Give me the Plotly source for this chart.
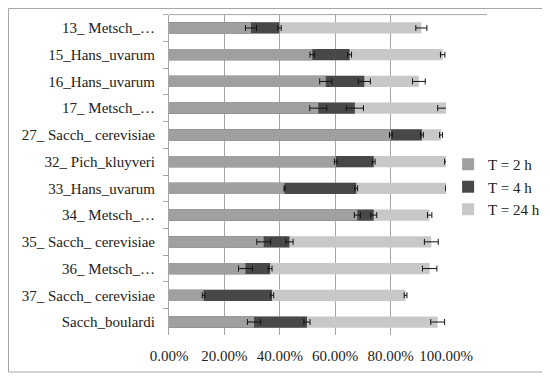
import plotly.graph_objects as go

categories = ["13_ Metsch_…", "15_Hans_uvarum", "16_Hans_uvarum", "17_ Metsch_…",
              "27_ Sacch_ cerevisiae", "32_ Pich_kluyveri", "33_Hans_uvarum", "34_ Metsch_…",
              "35_ Sacch_ cerevisiae", "36_ Metsch_…", "37_ Sacch_ cerevisiae", "Sacch_boulardi"]

t2 = [0.296, 0.517, 0.566, 0.539, 0.801, 0.602, 0.417, 0.680, 0.342, 0.276, 0.125, 0.307]
t2_err = [0.020, 0.008, 0.022, 0.031, 0.005, 0.005, 0.002, 0.011, 0.025, 0.025, 0.005, 0.024]
t4 = [0.399, 0.652, 0.705, 0.671, 0.913, 0.739, 0.676, 0.739, 0.435, 0.365, 0.372, 0.498]
t4_err = [0.006, 0.007, 0.022, 0.031, 0.005, 0.005, 0.005, 0.011, 0.013, 0.007, 0.006, 0.011]
t24 = [0.911, 0.988, 0.902, 1.000, 0.982, 1.000, 1.000, 0.941, 0.947, 0.941, 0.854, 0.970]
t24_err = [0.020, 0.008, 0.023, 0.030, 0.005, 0.005, 0.001, 0.008, 0.025, 0.026, 0.005, 0.025]

series_names = ["T = 2 h", "T = 4 h", "T = 24 h"]
colors = ["#a0a0a0", "#484848", "#c8c8c8"]

FONT = "Liberation Serif"
W, H = 542, 369

fig = go.Figure()
for name, vals, errs, col, rank in [
    (series_names[2], t24, t24_err, colors[2], 3),
    (series_names[1], t4, t4_err, colors[1], 2),
    (series_names[0], t2, t2_err, colors[0], 1),
]:
    fig.add_trace(go.Bar(
        y=categories, x=vals, orientation="h", name=name,
        marker=dict(color=col, line=dict(width=0)),
        error_x=dict(type="data", array=errs, color="#111111", thickness=1, width=3),
        legendrank=rank, width=0.42,
    ))

fig.update_layout(
    width=W, height=H,
    barmode="overlay",
    plot_bgcolor="white", paper_bgcolor="white",
    margin=dict(l=0, r=0, t=0, b=0, pad=0),
    font=dict(family=FONT, size=15, color="#222222"),
    showlegend=True,
    legend=dict(x=0.812, xanchor="left", y=0.515, yanchor="middle",
                font=dict(family=FONT, size=15, color="#222222"),
                tracegroupgap=9, itemwidth=30, bgcolor="rgba(0,0,0,0)"),
    xaxis=dict(domain=[161 / W, 438 / W], range=[0, 1.0],
               tickvals=[0, 0.2, 0.4, 0.6, 0.8, 1.0],
               ticktext=["0.00%", "20.00%", "40.00%", "60.00%", "80.00%", "100.00%"],
               showgrid=True, gridcolor="#a6a6a6", gridwidth=1,
               zeroline=False, showline=False, ticks="", ticklabelstandoff=10,
               automargin=False),
    yaxis=dict(domain=[1 - 327.4 / H, 1 - 6.6 / H],
               categoryorder="array", categoryarray=categories, autorange="reversed",
               showline=True, linecolor="#a6a6a6", linewidth=1,
               ticks="outside", ticklen=5, tickcolor="#a6a6a6", tickson="boundaries",
               showgrid=False, ticklabelstandoff=10, automargin=False),
)

# top line of plot area, extending to the right
fig.add_shape(type="line", xref="paper", yref="paper",
              x0=161 / W, x1=479 / W, y0=1 - 6.6 / H, y1=1 - 6.6 / H,
              line=dict(color="#a6a6a6", width=1))
# outer border
fig.add_shape(type="rect", xref="paper", yref="paper",
              x0=0.5 / W, x1=537 / W, y0=1 - 364 / H, y1=1 - 0.5 / H,
              line=dict(color="#a6a6a6", width=1), fillcolor="rgba(0,0,0,0)")

fig.write_html("out.html")
